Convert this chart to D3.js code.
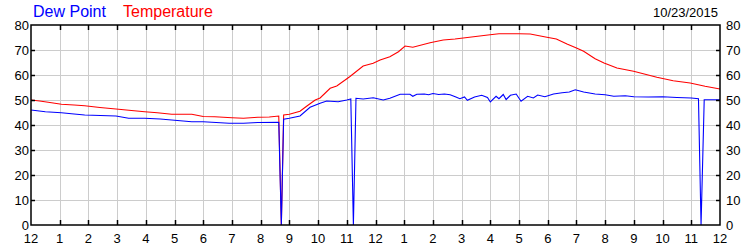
<!DOCTYPE html>
<html>
<head>
	<title>Dew Point / Temperature</title>
	<script src="https://d3js.org/d3.v7.min.js"></script>
	<style>
	body{
		margin: 0;
		background: #ffffff;
		font-family: "Liberation Sans", Arial, sans-serif;
	}
	.grid line{
		stroke: #cccccc;
		stroke-width: 1;
	}
	.frame{
		fill: none;
		stroke: #000000;
		stroke-width: 1.5;
	}
	.tick-mark{
		stroke: #000000;
		stroke-width: 1.5;
	}
	.lbl{
		font-size: 13px;
		fill: #000000;
	}
	</style>
</head>
<body>
	<div id="chart"></div>

	<script>
		// hours since midnight, degrees F
		var hourTicks = d3.range(0, 25);
		var hourLabels = ["12","1","2","3","4","5","6","7","8","9","10","11","12","1","2","3","4","5","6","7","8","9","10","11","12"];
		var valueTicks = [0, 10, 20, 30, 40, 50, 60, 70, 80];
		var dateLabel = "10/23/2015";

		var temperature = [
			[0, 50], [0.3, 49.6], [0.6, 49.1], [1.06, 48.3], [1.5, 48.0], [1.87, 47.7],
			[2.4, 47.0], [2.96, 46.4], [3.5, 45.8], [3.96, 45.3], [4.4, 44.9], [4.9, 44.3],
			[5.6, 44.3], [6.0, 43.4], [6.4, 43.3], [7.0, 42.9], [7.4, 42.7], [7.9, 43.1],
			[8.3, 43.2], [8.63, 43.6], [8.72, 0], [8.8, 44], [9.0, 44.3], [9.37, 45.5],
			[9.6, 47.5], [9.9, 50], [10.07, 50.8], [10.42, 54.7], [10.65, 55.6], [11.1, 59.3],
			[11.57, 63.6], [11.92, 64.7], [12.16, 66], [12.5, 67.3], [12.8, 69.3], [13.03, 71.6],
			[13.3, 71.1], [13.9, 72.9], [14.36, 74], [14.77, 74.4], [15.2, 75], [15.99, 76.1],
			[16.3, 76.5], [17.0, 76.5], [17.39, 76.4], [17.97, 75.1], [18.3, 74.4], [18.67, 72.4],
			[19.0, 70.8], [19.25, 69.5], [19.65, 66.5], [19.96, 64.8], [20.41, 62.8], [20.99, 61.5],
			[21.8, 59.1], [22.37, 57.7], [22.96, 56.8], [23.48, 55.5], [24, 54.4]
		];

		var dewPoint = [
			[0, 46], [0.5, 45.3], [1.06, 44.9], [1.5, 44.4], [1.87, 44], [2.96, 43.6],
			[3.4, 42.7], [3.96, 42.7], [4.5, 42.4], [4.9, 42], [5.6, 41.3], [6.0, 41.3],
			[6.9, 40.7], [7.4, 40.7], [7.9, 41], [8.63, 41.1], [8.72, 0], [8.8, 42.3],
			[9.0, 42.7], [9.37, 43.6], [9.72, 47.1], [10.07, 48.7], [10.3, 49.6], [10.7, 49.3],
			[11.0, 50], [11.14, 50.4], [11.23, 0], [11.32, 50.7], [11.57, 50.4], [11.92, 50.9],
			[12.27, 50], [12.5, 50.7], [12.86, 52.3], [13.2, 52.3], [13.3, 51.5], [13.44, 52.3],
			[13.7, 52.4], [13.85, 52.1], [14.0, 52.6], [14.2, 52.2], [14.4, 52.4], [14.6, 52.1],
			[14.8, 51.2], [14.94, 50.5], [15.1, 51.2], [15.2, 49.9], [15.45, 51.2], [15.7, 51.9],
			[15.9, 51], [16.0, 49.2], [16.2, 51.5], [16.3, 50.5], [16.45, 52.2], [16.55, 50.2],
			[16.7, 51.9], [16.9, 52.4], [17.07, 49.5], [17.3, 51.5], [17.5, 50.8], [17.65, 52],
			[17.9, 51.3], [18.2, 52.4], [18.5, 52.9], [18.75, 53.2], [18.96, 54.1], [19.25, 53.2],
			[19.65, 52.4], [20.0, 52.1], [20.3, 51.5], [20.7, 51.7], [21.0, 51.3], [21.5, 51.2],
			[22.0, 51.3], [22.5, 51], [23.0, 50.8], [23.25, 50.5], [23.34, 0], [23.45, 50.1],
			[24, 50.1]
		];

		var width = 750,
			height = 250,
			margin = {top: 25, right: 30, bottom: 25, left: 31};

		var svg = d3.select("#chart")
			.append("svg")
			.attr("width", width)
			.attr("height", height);

		var x = d3.scaleLinear().domain([0, 24]).range([margin.left, width - margin.right]);
		var y = d3.scaleLinear().domain([0, 80]).range([height - margin.bottom, margin.top]);

		// grid
		var grid = svg.append("g").attr("class", "grid");
		grid.selectAll(".vg")
			.data(hourTicks.slice(1, -1))
			.enter().append("line")
			.attr("x1", function(d){return Math.round(x(d)) + 0.5;})
			.attr("x2", function(d){return Math.round(x(d)) + 0.5;})
			.attr("y1", y(80))
			.attr("y2", y(0));
		grid.selectAll(".hg")
			.data(valueTicks.slice(1, -1))
			.enter().append("line")
			.attr("y1", function(d){return Math.round(y(d)) + 0.5;})
			.attr("y2", function(d){return Math.round(y(d)) + 0.5;})
			.attr("x1", x(0))
			.attr("x2", x(24));

		// lines
		var line = d3.line()
			.x(function(d){return x(d[0]);})
			.y(function(d){return y(d[1]);});

		svg.append("path")
			.datum(temperature)
			.attr("d", line)
			.attr("fill", "none")
			.attr("stroke", "#ff0000")
			.attr("stroke-width", 1.1);

		svg.append("path")
			.datum(dewPoint)
			.attr("d", line)
			.attr("fill", "none")
			.attr("stroke", "#0000ff")
			.attr("stroke-width", 1.1);

		// frame
		svg.append("rect")
			.attr("class", "frame")
			.attr("x", x(0))
			.attr("y", y(80))
			.attr("width", x(24) - x(0))
			.attr("height", y(0) - y(80));

		// inward tick marks
		var ticks = svg.append("g");
		hourTicks.slice(1, -1).forEach(function(h){
			var px = Math.round(x(h)) + 0.5;
			ticks.append("line").attr("class", "tick-mark")
				.attr("x1", px).attr("x2", px).attr("y1", y(80)).attr("y2", y(80) + 5);
			ticks.append("line").attr("class", "tick-mark")
				.attr("x1", px).attr("x2", px).attr("y1", y(0)).attr("y2", y(0) - 5);
		});
		valueTicks.slice(1, -1).forEach(function(v){
			var py = Math.round(y(v)) + 0.5;
			ticks.append("line").attr("class", "tick-mark")
				.attr("x1", x(0)).attr("x2", x(0) + 4).attr("y1", py).attr("y2", py);
			ticks.append("line").attr("class", "tick-mark")
				.attr("x1", x(24)).attr("x2", x(24) - 4).attr("y1", py).attr("y2", py);
		});

		// tick labels
		svg.selectAll(".xl")
			.data(hourTicks)
			.enter().append("text")
			.attr("class", "lbl")
			.attr("x", function(d){return x(d);})
			.attr("y", 243)
			.attr("text-anchor", "middle")
			.text(function(d, i){return hourLabels[i];});

		svg.selectAll(".yl")
			.data(valueTicks)
			.enter().append("text")
			.attr("class", "lbl")
			.attr("x", x(0) - 2)
			.attr("y", function(d){return y(d) + 5;})
			.attr("text-anchor", "end")
			.text(function(d){return d;});

		svg.selectAll(".yr")
			.data(valueTicks)
			.enter().append("text")
			.attr("class", "lbl")
			.attr("x", x(24) + 6)
			.attr("y", function(d){return y(d) + 5;})
			.attr("text-anchor", "start")
			.text(function(d){return d;});

		// legend + date
		svg.append("text")
			.attr("x", 33).attr("y", 17)
			.attr("font-size", "16px")
			.attr("fill", "#0000ff")
			.text("Dew Point");
		svg.append("text")
			.attr("x", 123).attr("y", 17)
			.attr("font-size", "16px")
			.attr("fill", "#ff0000")
			.text("Temperature");
		svg.append("text")
			.attr("x", 718).attr("y", 17)
			.attr("font-size", "13px")
			.attr("text-anchor", "end")
			.text(dateLabel);
	</script>
</body>
</html>
